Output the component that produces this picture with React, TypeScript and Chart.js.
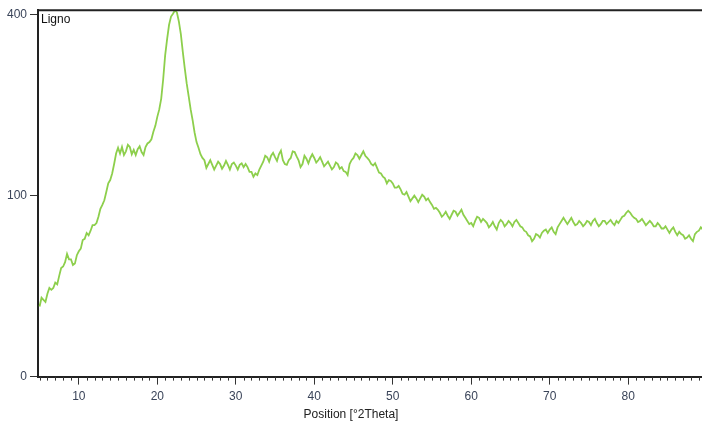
import React, { useEffect, useRef } from "react";
import { Chart, registerables, LinearScale } from "chart.js";

Chart.register(...registerables);

class SqrtScale extends LinearScale {
  static id = "sqrt";
  static defaults = {};
  getPixelForValue(value: number) {
    const a = Math.sqrt(Math.max(this.min, 0));
    const b = Math.sqrt(this.max);
    const d = (Math.sqrt(Math.max(value, 0)) - a) / (b - a);
    return this.getPixelForDecimal(d);
  }
  getValueForPixel(pixel: number) {
    const a = Math.sqrt(Math.max(this.min, 0));
    const b = Math.sqrt(this.max);
    const s = a + this.getDecimalForPixel(pixel) * (b - a);
    return s * s;
  }
}
Chart.register(SqrtScale as any);

const sampleName = "Ligno";
const xAxisTitle = "Position [°2Theta]";
const xMajorTicks = [10, 20, 30, 40, 50, 60, 70, 80];
const yTicks = [0, 100, 400];

// scan: start angle and step size (°2Theta)
const scanStart = 5.0;
const scanStep = 0.25;

// counts, one row per 5° block
const counts = [
  15, 19, 18, 17, 21, 24, 23, 24, 27, 26, 31, 36, 37, 40, 46, 42, 42, 38, 39, 45,
  48, 50, 57, 58, 63, 61, 65, 70, 70, 72, 78, 86, 90, 95, 104, 114, 118, 126, 138, 152,
  160, 152, 161, 150, 155, 164, 161, 151, 157, 150, 158, 162, 154, 150, 161, 166, 168, 172, 183, 192,
  206, 218, 236, 270, 315, 348, 378, 396, 402, 410, 405, 385, 358, 322, 290, 262, 240, 218, 201, 182,
  168, 160, 151, 146, 143, 133, 138, 143, 137, 131, 136, 141, 138, 132, 136, 142, 137, 131, 138, 140,
  136, 131, 137, 139, 134, 138, 134, 128, 128, 122, 126, 124, 131, 136, 141, 149, 147, 141, 149, 153,
  147, 142, 151, 156, 143, 138, 137, 143, 146, 155, 154, 148, 143, 134, 138, 149, 145, 139, 146, 151,
  146, 140, 143, 147, 141, 135, 138, 141, 136, 131, 134, 140, 138, 132, 134, 129, 128, 124, 138, 143,
  146, 152, 150, 145, 150, 155, 149, 146, 143, 138, 136, 139, 133, 127, 126, 122, 120, 114, 118, 117,
  114, 109, 109, 111, 107, 102, 101, 104, 99, 94, 97, 100, 97, 93, 97, 101, 99, 95, 97, 93,
  90, 86, 87, 85, 82, 78, 80, 83, 79, 76, 80, 84, 83, 79, 82, 85, 80, 77, 74, 71,
  72, 69, 74, 78, 77, 73, 76, 74, 72, 68, 70, 73, 69, 66, 72, 75, 73, 69, 71, 74,
  72, 69, 73, 75, 72, 69, 68, 65, 64, 61, 60, 56, 58, 62, 61, 59, 63, 65, 66, 63,
  66, 68, 64, 62, 68, 71, 74, 77, 74, 71, 74, 77, 73, 70, 71, 74, 72, 69, 71, 74,
  73, 70, 74, 76, 72, 69, 71, 74, 74, 71, 73, 75, 72, 70, 74, 72, 75, 78, 79, 82,
  84, 82, 79, 77, 76, 73, 74, 76, 73, 70, 72, 74, 72, 69, 69, 72, 70, 67, 67, 69,
  66, 63, 66, 68, 64, 61, 64, 62, 61, 58, 59, 61, 58, 56, 62, 64, 65, 68, 66,
];

const xMin = 4.8;
const xMax = 89.4;
const yMax = 410;

const FONT = "'Liberation Sans', Arial, sans-serif";
const LINE_COLOR = "#8DCF4C";
const LABEL_COLOR = "#3a4459";

const decorPlugin = {
  id: "decor",
  afterDraw(chart: any) {
    const { ctx, chartArea } = chart;
    const xs = chart.scales.x;
    ctx.save();
    ctx.strokeStyle = "#222";
    ctx.lineWidth = 2;
    ctx.beginPath();
    ctx.moveTo(chartArea.left, chartArea.top);
    ctx.lineTo(chartArea.right, chartArea.top);
    ctx.stroke();
    ctx.lineWidth = 1;
    ctx.strokeStyle = "#333";
    ctx.beginPath();
    for (let v = Math.ceil(xMin); v <= Math.floor(xMax); v++) {
      if (v % 10 === 0) continue;
      const px = Math.round(xs.getPixelForValue(v)) + 0.5;
      ctx.moveTo(px, chartArea.bottom);
      ctx.lineTo(px, chartArea.bottom + 4);
    }
    ctx.stroke();
    ctx.fillStyle = "#111";
    ctx.font = `12px ${FONT}`;
    ctx.textBaseline = "middle";
    ctx.textAlign = "left";
    ctx.fillText(sampleName, chartArea.left + 3, chartArea.top + 9);
    ctx.restore();
  },
};

export default function App() {
  const ref = useRef<HTMLCanvasElement | null>(null);
  useEffect(() => {
    if (!ref.current) return;
    const points = counts.map((c, i) => ({ x: scanStart + i * scanStep, y: c }));
    const chart = new Chart(ref.current, {
      type: "line",
      data: {
        datasets: [
          {
            data: points,
            borderColor: LINE_COLOR,
            borderWidth: 1.8,
            pointRadius: 0,
            tension: 0,
            fill: false,
          },
        ],
      },
      options: {
        animation: false,
        responsive: false,
        maintainAspectRatio: false,
        layout: { padding: { top: 7, left: 0, right: 0, bottom: 0 } },
        plugins: {
          legend: { display: false },
          tooltip: { enabled: false },
          title: {
            display: true,
            position: "bottom",
            text: xAxisTitle,
            color: "#222",
            font: { family: FONT, size: 12, weight: "normal" },
            padding: { top: 0, bottom: 4 },
          },
        },
        scales: {
          x: {
            type: "linear",
            min: xMin,
            max: xMax,
            afterBuildTicks: (s: any) => {
              s.ticks = xMajorTicks.map((v) => ({ value: v }));
            },
            afterFit: (s: any) => {
              s.height = 31;
            },
            ticks: {
              color: LABEL_COLOR,
              font: { family: FONT, size: 12 },
              padding: 5,
              maxRotation: 0,
              autoSkip: false,
              callback: (v: any) => String(v),
            },
            grid: {
              display: true,
              drawOnChartArea: false,
              drawTicks: true,
              tickLength: 8,
              color: "#333",
              lineWidth: 1,
            },
            border: { display: true, color: "#222", width: 2 },
          },
          y: {
            type: "sqrt" as any,
            min: 0,
            max: yMax,
            afterBuildTicks: (s: any) => {
              s.ticks = yTicks.map((v) => ({ value: v }));
            },
            afterFit: (s: any) => {
              s.width = 38;
            },
            ticks: {
              color: LABEL_COLOR,
              font: { family: FONT, size: 12 },
              padding: 3,
              autoSkip: false,
              callback: (v: any) => String(v),
            },
            grid: {
              display: true,
              drawOnChartArea: false,
              drawTicks: true,
              tickLength: 8,
              color: "#333",
              lineWidth: 1,
            },
            border: { display: true, color: "#222", width: 2 },
          },
        },
      } as any,
      plugins: [decorPlugin],
    });
    return () => chart.destroy();
  }, []);
  return (
    <div style={{ position: "fixed", left: 0, top: 0, width: 702, height: 426, background: "#fff" }}>
      <canvas ref={ref} width={702} height={426} style={{ width: 702, height: 426 }} />
    </div>
  );
}
